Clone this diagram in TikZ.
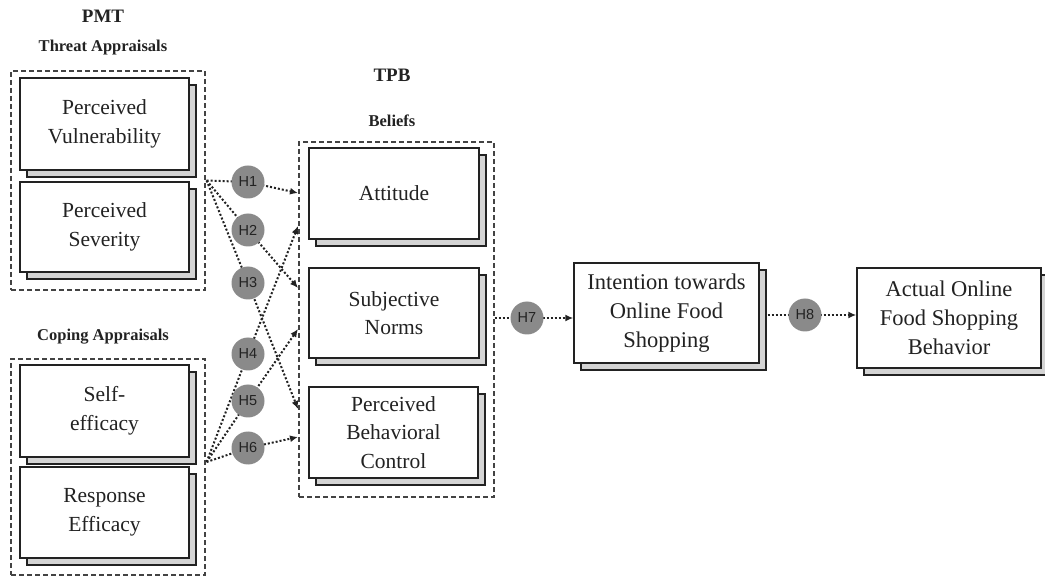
\documentclass[tikz,border=0pt]{standalone}
\usepackage{fontspec}
\setmainfont{Liberation Serif}
\newfontfamily\cardfont{Liberation Serif}
\newfontfamily\hfont{Liberation Sans}
\usetikzlibrary{shadows,arrows.meta}
\pgfdeclarelayer{bg}
\pgfsetlayers{bg,main}
\definecolor{ink}{HTML}{222222}
\definecolor{hgray}{HTML}{8A8A8A}
\definecolor{shade}{HTML}{D4D4D4}
\tikzset{
  card/.style={draw=ink, line width=1.4pt, fill=white, align=center,
    font=\cardfont\fontsize{21.5}{28.5}\selectfont, text=ink, inner sep=0pt,
    copy shadow={shadow xshift=7pt, shadow yshift=-7pt, fill=shade, draw=ink, line width=1.2pt}},
  bigcard/.style={card, font=\cardfont\fontsize{22.5}{29}\selectfont},
  groupbox/.style={draw=ink!85, line width=1.2pt, dash pattern=on 5pt off 3pt, inner sep=0pt},
  hyp/.style={circle, fill=hgray, minimum size=33pt, inner sep=0pt,
    font=\hfont\fontsize{14.5}{14.5}\selectfont, text=ink},
  link/.style={ink, line width=2pt, dash pattern=on 2pt off 2pt,
    -{Latex[length=8pt,width=7pt]}},
  title/.style={font=\cardfont\bfseries\fontsize{19}{19}\selectfont, text=ink, anchor=base},
  subtitle/.style={font=\cardfont\bfseries\fontsize{16.5}{16.5}\selectfont, text=ink, anchor=base},
}
\begin{document}
\begin{tikzpicture}[x=1pt, y=-1pt]
\useasboundingbox (0,0) rectangle (1045,577);

% headings
\node[title] (pmt) at (103,23) {PMT};
\node[subtitle] (threatlbl) at (103,52) {Threat Appraisals};
\node[subtitle] (copinglbl) at (103,341) {Coping Appraisals};
\node[title] (tpb) at (392,82) {TPB};
\node[subtitle] (beliefslbl) at (392,127) {Beliefs};

% grouping frames
\node[groupbox, minimum width=194pt, minimum height=219pt] (threat) at (108,180.5) {};
\node[groupbox, minimum width=194pt, minimum height=216pt] (coping) at (108,467) {};
\node[groupbox, minimum width=195pt, minimum height=355pt] (beliefs) at (396.5,319.5) {};

% constructs
\node[card, minimum width=169pt, minimum height=92pt] (pv) at (104.5,124) {Perceived\\Vulnerability};
\node[card, minimum width=169pt, minimum height=90pt] (ps) at (104.5,227) {Perceived\\Severity};
\node[card, minimum width=169pt, minimum height=92pt] (se) at (104.5,411) {Self-\\efficacy};
\node[card, minimum width=169pt, minimum height=91pt] (re) at (104.5,512.5) {Response\\Efficacy};
\node[card, minimum width=170pt, minimum height=91pt] (att) at (394,193.5) {Attitude};
\node[card, minimum width=170pt, minimum height=90pt] (sn) at (394,313) {Subjective\\Norms};
\node[card, minimum width=169pt, minimum height=91pt] (pbc) at (393.5,432.5) {Perceived\\Behavioral\\Control};
\node[bigcard, minimum width=185pt, minimum height=100pt] (int) at (666.5,313) {Intention towards\\Online Food\\Shopping};
\node[bigcard, minimum width=184pt, minimum height=100pt] (act) at (949,318) {Actual Online\\Food Shopping\\Behavior};

% hypotheses
\node[hyp] (h1) at (248,182) {H1};
\node[hyp] (h2) at (248,230) {H2};
\node[hyp] (h3) at (248,283) {H3};
\node[hyp] (h4) at (248,354) {H4};
\node[hyp] (h5) at (248,401) {H5};
\node[hyp] (h6) at (248,448) {H6};
\node[hyp] (h7) at (527,318) {H7};
\node[hyp] (h8) at (805,315) {H8};

% arrow sources and targets
\coordinate (srcA) at ([xshift=1pt]threat.east);
\coordinate (srcB) at ([xshift=1pt,yshift=5pt]coping.east);
\coordinate (t1) at (298,193);
\coordinate (t2) at (298,288);
\coordinate (t3) at (298,409);
\coordinate (t4) at (298,226);
\coordinate (t5) at (298,329);
\coordinate (t6) at (298,437);

\begin{pgfonlayer}{bg}
\draw[link] (srcA) -- (h1.center) -- (t1);
\draw[link] (srcA) -- (h2.center) -- (t2);
\draw[link] (srcA) -- (h3.center) -- (t3);
\draw[link] (srcB) -- (h4.center) -- (t4);
\draw[link] (srcB) -- (h5.center) -- (t5);
\draw[link] (srcB) -- (h6.center) -- (t6);
\draw[link] (beliefs.east |- h7) -- (h7.center) -- (int.west |- h7);
\draw[link] ([xshift=8pt]int.east |- h8) -- (h8.center) -- (act.west |- h8);
\end{pgfonlayer}
\end{tikzpicture}
\end{document}
